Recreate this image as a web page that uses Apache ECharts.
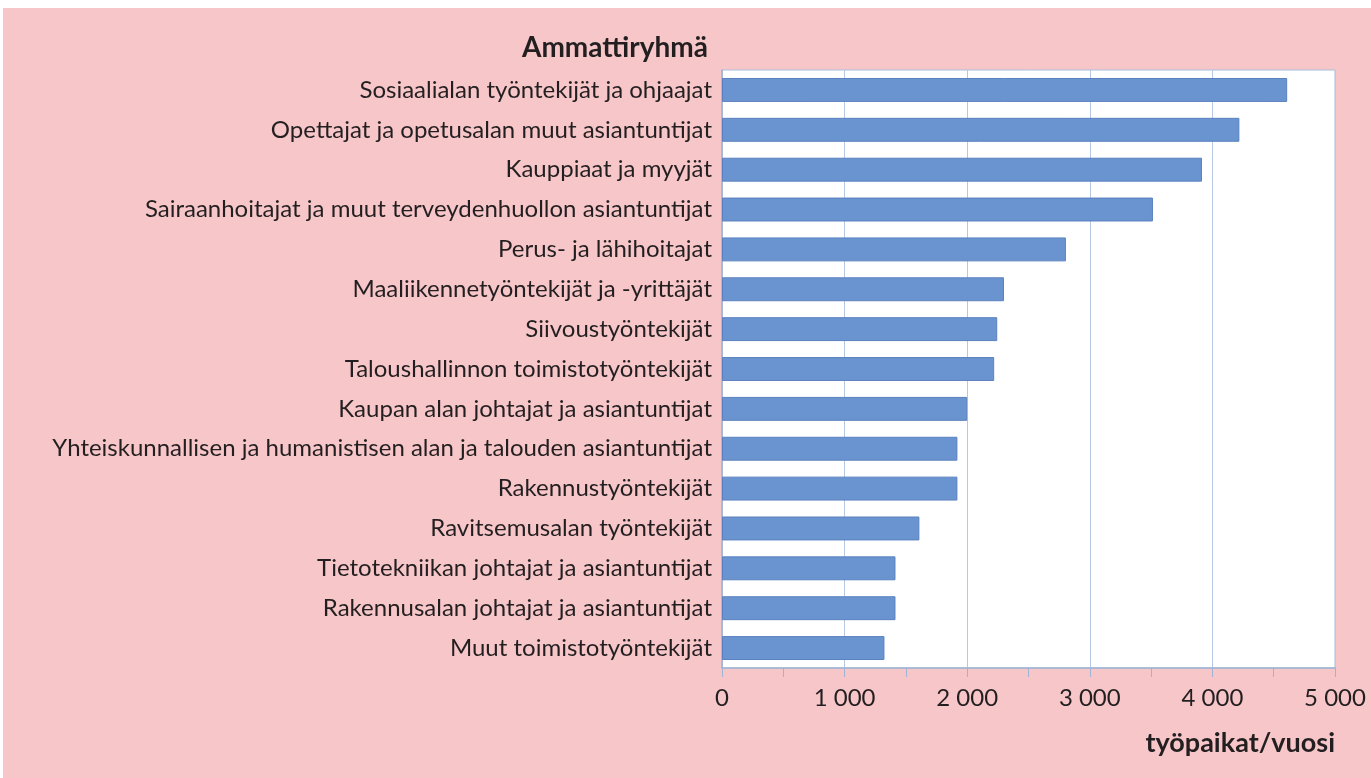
<!DOCTYPE html>
<html>
<head>
<meta charset="utf-8">
<script src="https://cdn.jsdelivr.net/npm/echarts@6/dist/echarts.min.js"></script>
<style>
  html, body { margin: 0; padding: 0; background: #fff; }
  #chart { position: absolute; left: 3px; top: 8px; width: 1368px; height: 770px; background: #f7c6c9; }
</style>
</head>
<body>
<div id="chart"></div>
<script>
// ammattiryhmät ylhäältä alas
const categories = [
  'Sosiaalialan työntekijät ja ohjaajat',
  'Opettajat ja opetusalan muut asiantuntijat',
  'Kauppiaat ja myyjät',
  'Sairaanhoitajat ja muut terveydenhuollon asiantuntijat',
  'Perus- ja lähihoitajat',
  'Maaliikennetyöntekijät ja -yrittäjät',
  'Siivoustyöntekijät',
  'Taloushallinnon toimistotyöntekijät',
  'Kaupan alan johtajat ja asiantuntijat',
  'Yhteiskunnallisen ja humanistisen alan ja talouden asiantuntijat',
  'Rakennustyöntekijät',
  'Ravitsemusalan työntekijät',
  'Tietotekniikan johtajat ja asiantuntijat',
  'Rakennusalan johtajat ja asiantuntijat',
  'Muut toimistotyöntekijät'
]
// työpaikat/vuosi
const values = [4610, 4220, 3915, 3515, 2805, 2300, 2245, 2220, 2000, 1920, 1920, 1610, 1415, 1415, 1325]

const font = 'Lato, "Open Sans", sans-serif'
const chart = echarts.init(document.getElementById('chart'))

chart.setOption({
  animation: false,
  textStyle: { fontFamily: font },
  title: {
    text: 'Ammattiryhmä',
    right: 1368 - 710,
    top: 21,
    textStyle: { fontFamily: font, fontSize: 28, fontWeight: 'bold', color: '#231f20' }
  },
  grid: {
    left: 719, top: 62, width: 613, height: 598,
    show: true, backgroundColor: '#fff', borderColor: '#a9bfdc', borderWidth: 1
  },
  xAxis: {
    type: 'value',
    min: 0, max: 5000, interval: 1000,
    name: 'työpaikat/vuosi',
    nameLocation: 'end',
    nameGap: 0,
    nameTextStyle: {
      fontFamily: font, fontSize: 27, fontWeight: 'bold', color: '#231f20',
      align: 'right', verticalAlign: 'top', padding: [62, 0, 0, 0]
    },
    axisLine: { show: true, lineStyle: { color: '#9fb4d2', width: 1.5 } },
    axisTick: { show: true, length: 9, lineStyle: { color: '#9fb4d2' } },
    minorTick: { show: true, splitNumber: 2, length: 9, lineStyle: { color: '#9fb4d2' } },
    axisLabel: {
      fontSize: 24, color: '#231f20', margin: 18,
      formatter: v => v === 0 ? '0' : String(v).replace(/\B(?=(\d{3})+$)/g, ' ')
    },
    splitLine: { show: true, lineStyle: { color: '#b7c8e2', width: 1 } }
  },
  yAxis: {
    type: 'category',
    inverse: true,
    data: categories,
    axisLine: { show: true, lineStyle: { color: '#9fb4d2', width: 1.5 } },
    axisTick: { show: false },
    axisLabel: { fontSize: 24, color: '#231f20', margin: 10 }
  },
  series: [{
    type: 'bar',
    data: values,
    barCategoryGap: '40%',
    itemStyle: { color: '#6a94d0', borderColor: '#5a80bf', borderWidth: 1 }
  }]
})
</script>
</body>
</html>
